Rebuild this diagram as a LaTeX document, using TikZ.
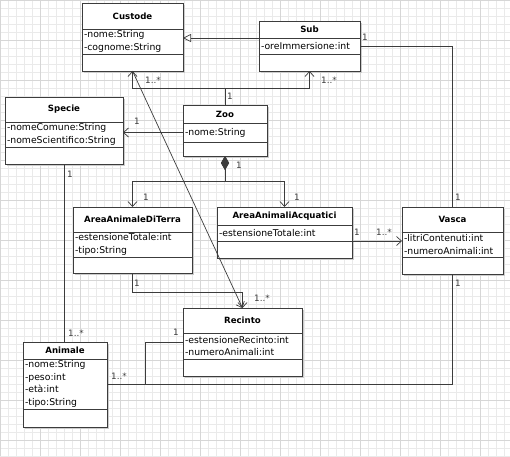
\documentclass[tikz,border=0pt]{standalone}
\usepackage{fontspec}
\usetikzlibrary{arrows.meta,positioning,backgrounds}
\newfontfamily\umlfont{DejaVu Sans}
\definecolor{gridGray}{RGB}{234,234,234}
\definecolor{gridDark}{RGB}{214,214,214}
\definecolor{lineGray}{RGB}{60,60,60}
\tikzset{
  clsHead/.style  = {rectangle, draw=lineGray, line width=0.8pt, fill=white,
                     anchor=north west, inner sep=0pt, outer sep=0pt,
                     font=\umlfont\fontsize{8.6}{10}\selectfont\bfseries},
  clsAttr/.style  = {clsHead, inner xsep=2pt, align=left,
                     font=\umlfont\fontsize{9.3}{12.5}\selectfont},
  clsEmpty/.style = {clsHead},
  umlLink/.style  = {draw=lineGray, line width=0.7pt},
  umlNav/.style   = {umlLink, -{Straight Barb[length=5pt,width=9pt]}},
  umlGen/.style   = {umlLink, -{Triangle[open,length=8pt,width=8pt,fill=white]}},
  umlComp/.style  = {umlLink, {Diamond[length=14pt,width=8pt]}-{Straight Barb[length=5pt,width=9pt]}},
  mult/.style     = {inner sep=0pt, text=lineGray,
                     font=\umlfont\fontsize{8.8}{10}\selectfont},
}
% name, nw corner, width, header h, attr h, empty h, title, attributes
\newcommand{\umlclass}[8]{%
  \pgfmathsetmacro\clsTW{#3-4}%
  \node[clsHead, minimum width=#3, minimum height=#4] (#1) at (#2) {#7};
  \node[clsAttr, text width=\clsTW pt, minimum height=#5] (#1a) at (#1.south west) {#8};
  \node[clsEmpty, minimum width=#3, minimum height=#6] (#1e) at (#1a.south west) {};
  \begin{scope}[on background layer]
    \fill[black!20] ([shift={(2,2)}]#1.north west) rectangle ([shift={(2,2)}]#1e.south east);
  \end{scope}
}

\begin{document}
\begin{tikzpicture}[x=1pt, y=-1pt]
  \useasboundingbox (0,0) rectangle (510,456);
  \begin{scope}[on background layer]
    \fill[white] (0,0) rectangle (510,456);
    \foreach \g in {0,8,...,510}{\draw[gridGray, line width=0.5pt] (\g,0) -- (\g,456);}
    \foreach \g in {0,8,...,456}{\draw[gridGray, line width=0.5pt] (0,\g) -- (510,\g);}
    \foreach \g in {0,40,...,510}{\draw[gridDark, line width=0.5pt] (\g,0) -- (\g,456);}
    \foreach \g in {0,40,...,456}{\draw[gridDark, line width=0.5pt] (0,\g) -- (510,\g);}
  \end{scope}

  % classes
  \umlclass{cus}{82,3}{101}{26}{25}{17}{Custode}{-nome:String\\-cognome:String}
  \umlclass{sub}{259,21}{101}{17}{16}{17}{Sub}{-oreImmersione:int}
  \umlclass{zoo}{183,105}{84}{18}{19}{14}{Zoo}{-nome:String}
  \umlclass{spe}{5,97}{118}{25}{25}{17}{Specie}{-nomeComune:String\\-nomeScientifico:String}
  \umlclass{adt}{73,207}{119}{25}{25}{16}{AreaAnimaleDiTerra}{-estensioneTotale:int\\-tipo:String}
  \umlclass{aac}{217,207}{135}{18}{16}{17}{AreaAnimaliAcquatici}{-estensioneTotale:int}
  \umlclass{vas}{402,207}{101}{25}{25}{17}{Vasca}{-litriContenuti:int\\-numeroAnimali:int}
  \umlclass{rec}{183,308}{119}{25}{26}{17}{Recinto}{-estensioneRecinto:int\\-numeroAnimali:int}
  \umlclass{ani}{23,342}{84}{17}{50}{18}{Animale}{-nome:String\\-peso:int\\-età:int\\-tipo:String}

  % connectors
  \draw[umlGen] (suba.north west) -- (suba.north west -| cusa.east);
  \draw[umlLink] (suba.east) -| (vas.north);
  \draw[umlNav] (zoo.north) -- ++(0,-17) -| (cuse.south);
  \draw[umlNav] (zoo.north) -- ++(0,-17) -| (sube.south);
  \draw[umlNav] (zooa.west) -- (zooa.west -| spea.east);
  \draw[umlLink] (spee.south) -- (spee.south |- ani.north);
  \draw[umlComp] (zooe.south) -- ++(0,25) -| (adt.north);
  \draw[umlComp] (zooe.south) -- ++(0,25) -| (aac.north);
  \draw[umlNav] (aace.north east) -- (aace.north east -| vasa.west);
  \draw[umlNav] (adte.south) -- ++(0,19) -| (rec.north);
  \draw[umlNav] (cuse.south) -- (rec.north);
  \draw[umlLink] (vase.south) |- (ania.east);
  \draw[umlLink] (ania.east) -- ++(38,0) |- ([yshift=4pt]reca.west);

  % multiplicities
  \node[mult] (m1) at (365,37) {1};
  \node[mult] (m2) at (153,80) {1..*};
  \node[mult] (m3) at (329,80) {1..*};
  \node[mult] (m4) at (230,96) {1};
  \node[mult] (m5) at (137,121) {1};
  \node[mult] (m6) at (70,174) {1};
  \node[mult] (m7) at (239,165) {1};
  \node[mult] (m8) at (146,197) {1};
  \node[mult] (m9) at (297,197) {1};
  \node[mult] (m10) at (357,232) {1};
  \node[mult] (m11) at (384,232) {1..*};
  \node[mult] (m12) at (458,197) {1};
  \node[mult] (m13) at (458,283) {1};
  \node[mult] (m14) at (137,283) {1};
  \node[mult] (m15) at (262,298) {1..*};
  \node[mult] (m16) at (76,333) {1..*};
  \node[mult] (m17) at (176,332) {1};
  \node[mult] (m18) at (119,376) {1..*};
\end{tikzpicture}
\end{document}
